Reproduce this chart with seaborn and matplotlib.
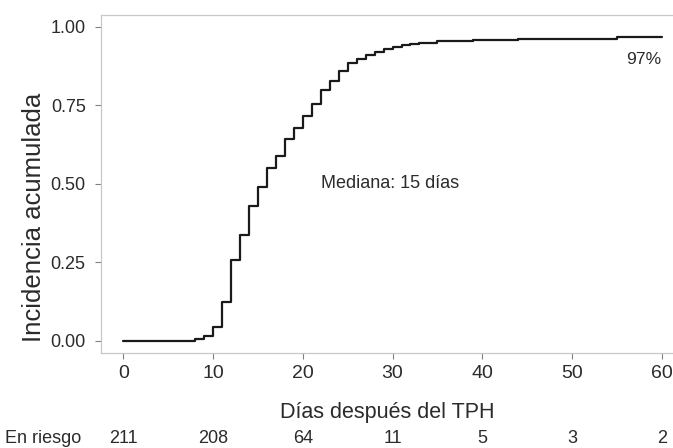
import matplotlib
matplotlib.use("Agg")
import matplotlib.pyplot as plt
import matplotlib.transforms as mtransforms
import seaborn as sns
import pandas as pd

# Data
days = [0, 8, 9, 10, 11, 12, 13, 14, 15, 16, 17, 18, 19, 20, 21, 22, 23, 24, 25,
        26, 27, 28, 29, 30, 31, 32, 33, 35, 39, 44, 55, 60]
cum_incidence = [0.000, 0.006, 0.014, 0.043, 0.124, 0.257, 0.336, 0.428, 0.490,
                 0.549, 0.588, 0.642, 0.677, 0.716, 0.753, 0.798, 0.828, 0.858,
                 0.883, 0.896, 0.910, 0.919, 0.928, 0.934, 0.940, 0.945, 0.949,
                 0.953, 0.957, 0.962, 0.967, 0.967]
risk_times = [0, 10, 20, 30, 40, 50, 60]
risk_counts = [211, 208, 64, 11, 5, 3, 2]
x_ticks = [0, 10, 20, 30, 40, 50, 60]
y_ticks = [0.00, 0.25, 0.50, 0.75, 1.00]
y_tick_labels = ["0.00", "0.25", "0.50", "0.75", "1.00"]

df = pd.DataFrame({"dias": days, "inc": cum_incidence})

sns.set_theme(style="white")
plt.rcParams["font.family"] = ["Liberation Sans", "DejaVu Sans"]
text_color = "#2b2b2b"

fig = plt.figure(figsize=(6.73, 4.48), dpi=100)
ax = fig.add_axes([0.150, 0.2127, 0.850, 0.7538])

sns.lineplot(data=df, x="dias", y="inc", ax=ax, drawstyle="steps-post",
             color="#1a1a1a", linewidth=1.6, estimator=None, sort=False)

ax.set_xlim(-2.5, 61.26)
ax.set_ylim(-0.038, 1.037)
ax.set_xticks(x_ticks)
ax.set_yticks(y_ticks)
ax.set_yticklabels(y_tick_labels)

for side in ["left", "bottom", "top"]:
    ax.spines[side].set_visible(True)
    ax.spines[side].set_color("#c8c8c8")
    ax.spines[side].set_linewidth(0.9)
ax.spines["right"].set_visible(False)

ax.tick_params(axis="both", which="major", length=4, width=0.8, color="#808080",
               labelcolor=text_color, direction="out", bottom=True, left=True)
ax.tick_params(axis="y", pad=7, labelsize=13)
ax.tick_params(axis="x", pad=5, labelsize=14)

ax.set_xlabel("Días después del TPH", fontsize=15.5, color=text_color)
ax.xaxis.label.set_va("center")
ax.xaxis.set_label_coords(0.5, -0.176)

ax.set_ylabel("Incidencia acumulada", fontsize=18.5, color=text_color)
ax.yaxis.label.set_va("center")
ax.yaxis.set_label_coords(-0.117, 0.40)

ax.text(22, 0.50, "Mediana: 15 días", ha="left", va="center", fontsize=13,
        color=text_color)
ax.text(60, 0.894, "97%", ha="right", va="center", fontsize=12.6,
        color=text_color)

# Number at risk row
trans = mtransforms.blended_transform_factory(ax.transData, fig.transFigure)
for t, n in zip(risk_times, risk_counts):
    ax.text(t, 0.0223, str(n), transform=trans, ha="center", va="center",
            fontsize=13, color=text_color, clip_on=False)
fig.text(0.0074, 0.0223, "En riesgo", ha="left", va="center", fontsize=13,
         color=text_color)

fig.savefig("out.png", dpi=100)
